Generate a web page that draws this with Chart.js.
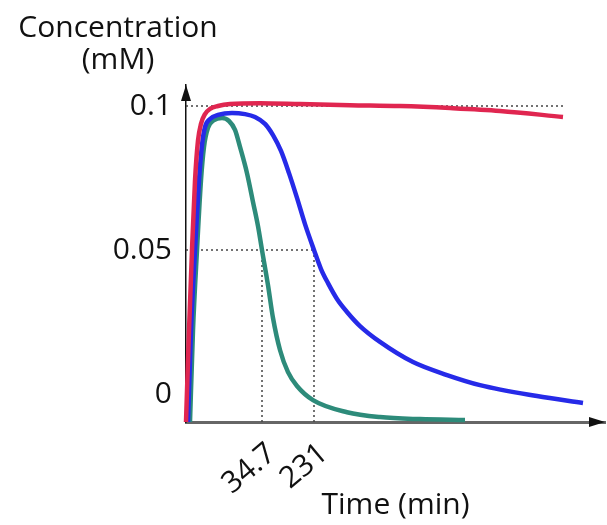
<!DOCTYPE html>
<html>
<head>
<meta charset="utf-8">
<script src="https://cdn.jsdelivr.net/npm/chart.js@4.4.0/dist/chart.umd.min.js"></script>
<style>
  html, body { margin: 0; padding: 0; background: #fff; }
  #wrap { width: 607px; height: 525px; }
</style>
</head>
<body>
<div id="wrap"><canvas id="chart"></canvas></div>
<script>
// the time axis is a sketch: x runs in drawing units, the two named times sit at xTickPos
var xTickPos = [76, 128];
var xTickLabels = ['34.7', '231'];
var yTicks = [0, 0.05, 0.1];
var xMax = 419;
var yMin = -0.0097, yMax = 0.1073;

var redX = [0, 3, 6, 9, 12, 15, 19, 24, 32, 44, 74, 114, 164, 214, 264, 314, 377];
var redY = [-0.0097, 0.022, 0.05, 0.074, 0.088, 0.0938, 0.0972, 0.099, 0.1, 0.1007, 0.101, 0.1007, 0.1003, 0.1, 0.0993, 0.0983, 0.0962];

var blueX = [2, 5, 9, 13, 16, 19, 24, 32, 46, 59, 69, 79, 87, 95, 103, 111, 119, 128, 135, 142, 151, 161, 174, 194, 227, 261, 294, 351, 397];
var blueY = [-0.0097, 0.0222, 0.05, 0.0743, 0.0865, 0.0927, 0.0955, 0.0969, 0.0976, 0.0972, 0.0962, 0.0938, 0.0899, 0.0844, 0.0767, 0.0681, 0.059, 0.05, 0.0434, 0.0385, 0.033, 0.0285, 0.0236, 0.0181, 0.0111, 0.0066, 0.0031, -0.0007, -0.0031];

var tealX = [4, 7, 11, 15, 18, 22, 28, 36, 43, 49, 54, 61, 67, 72, 76, 82, 87, 94, 102, 111, 127, 161, 194, 234, 279];
var tealY = [-0.0097, 0.0222, 0.05, 0.0743, 0.0858, 0.0924, 0.0951, 0.0958, 0.0948, 0.0917, 0.0858, 0.0767, 0.0667, 0.0583, 0.05, 0.0378, 0.0264, 0.0153, 0.0076, 0.0028, -0.0021, -0.0063, -0.008, -0.0087, -0.009];

function pts(xs, ys) {
  return xs.map(function (x, i) { return { x: x, y: ys[i] }; });
}

var FONT = '"Open Sans", "DejaVu Sans", sans-serif';

function curve(data, color) {
  return {
    data: data,
    borderColor: color,
    borderWidth: 4.5,
    pointRadius: 0,
    cubicInterpolationMode: 'monotone',
    fill: false,
    clip: false
  };
}

function guide(data) {
  return {
    data: data,
    borderColor: '#444',
    borderWidth: 1.5,
    borderDash: [2, 3],
    pointRadius: 0,
    fill: false
  };
}

// arrow heads and the horizontal y title
var axisExtras = {
  id: 'axisExtras',
  afterDraw: function (chart) {
    var ctx = chart.ctx, a = chart.chartArea;
    ctx.save();
    ctx.fillStyle = '#111';
    ctx.beginPath();
    ctx.moveTo(a.left, a.top);
    ctx.lineTo(a.left - 5, a.top + 16);
    ctx.lineTo(a.left + 5, a.top + 16);
    ctx.closePath();
    ctx.fill();
    ctx.beginPath();
    ctx.moveTo(a.right, a.bottom);
    ctx.lineTo(a.right - 16, a.bottom - 5);
    ctx.lineTo(a.right - 16, a.bottom + 5);
    ctx.closePath();
    ctx.fill();
    ctx.font = '30px ' + FONT;
    ctx.textAlign = 'center';
    ctx.textBaseline = 'alphabetic';
    ctx.fillText('Concentration', a.left - 68, 37);
    ctx.fillText('(mM)', a.left - 68, 69);
    ctx.restore();
  }
};

new Chart(document.getElementById('chart'), {
  type: 'line',
  data: {
    datasets: [
      curve(pts(redX, redY), 'rgb(224, 38, 80)'),
      curve(pts(blueX, blueY), 'rgb(38, 42, 232)'),
      curve(pts(tealX, tealY), 'rgb(45, 139, 122)'),
      guide(pts([0, redX[redX.length - 1]], [yTicks[2], yTicks[2]])),
      guide(pts([0, xTickPos[1]], [yTicks[1], yTicks[1]])),
      guide(pts([xTickPos[0], xTickPos[0]], [yTicks[1], yMin])),
      guide(pts([xTickPos[1], xTickPos[1]], [yTicks[1], yMin]))
    ]
  },
  options: {
    responsive: true,
    maintainAspectRatio: false,
    animation: false,
    layout: { padding: { top: 85, right: 2, left: 0, bottom: 0 } },
    plugins: { legend: { display: false }, tooltip: { enabled: false } },
    scales: {
      x: {
        type: 'linear',
        min: 0,
        max: xMax,
        grid: { display: false, drawTicks: false },
        border: { display: true, color: '#666', width: 3 },
        afterBuildTicks: function (scale) {
          scale.ticks = xTickPos.map(function (v) { return { value: v }; });
        },
        afterFit: function (scale) { scale.height = 103; },
        ticks: {
          minRotation: 40,
          maxRotation: 40,
          padding: 14,
          labelOffset: 10,
          color: '#111',
          font: { family: FONT, size: 30 },
          callback: function (value, index) { return xTickLabels[index]; }
        },
        title: {
          display: true,
          text: 'Time (min)',
          color: '#111',
          font: { family: FONT, size: 30 },
          padding: { top: 0, bottom: 2 }
        }
      },
      y: {
        type: 'linear',
        min: yMin,
        max: yMax,
        grid: { display: false, drawTicks: false },
        border: { display: true, color: '#111', width: 1.5 },
        afterBuildTicks: function (scale) {
          scale.ticks = yTicks.map(function (v) { return { value: v }; });
        },
        afterFit: function (scale) { scale.width = 186; },
        ticks: {
          padding: 14,
          color: '#111',
          font: { family: FONT, size: 30 },
          callback: function (value) { return String(value); }
        }
      }
    }
  },
  plugins: [axisExtras]
});
</script>
</body>
</html>
